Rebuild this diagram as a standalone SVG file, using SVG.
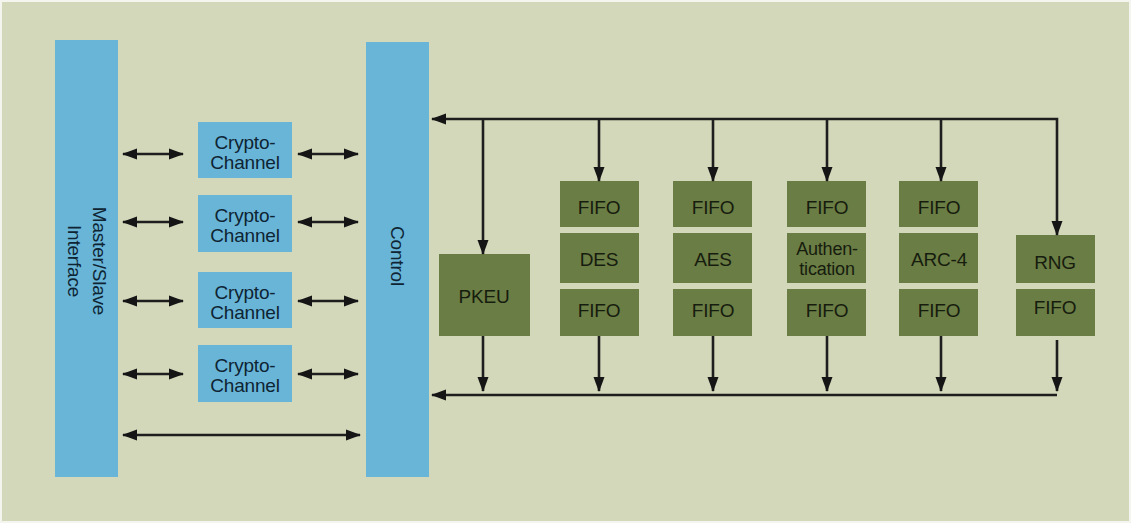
<svg xmlns="http://www.w3.org/2000/svg" width="1131" height="523" viewBox="0 0 1131 523">
<defs>
<style>
.bg{fill:#d3d8ba}
.blue{fill:#69b5d7}
.green{fill:#6a7d44}
.t{font-family:"Liberation Sans",Arial,sans-serif;font-size:19px;fill:#161c0e;text-anchor:middle;dominant-baseline:central;letter-spacing:-0.2px}
.tb{fill:#0e2433}
.ln{stroke:#1e1e1e;stroke-width:2.6;fill:none}
</style>
<marker id="ah" markerUnits="userSpaceOnUse" markerWidth="15" markerHeight="12" refX="14" refY="6" orient="auto-start-reverse">
<path d="M0,0.5 L15,6 L0,11.5 Z" fill="#151515"/>
</marker>
</defs>
<rect x="0" y="0" width="1131" height="523" fill="#f4f5ee"/>
<rect class="bg" x="2" y="2" width="1127" height="519"/>

<g id="master-slave">
<rect class="blue" x="55" y="40" width="63" height="437"/>
<text class="t tb" transform="translate(99,261) rotate(90)" x="0" y="0">Master/Slave</text>
<text class="t tb" transform="translate(74,261) rotate(90)" x="0" y="0">Interface</text>
</g>

<g id="control">
<rect class="blue" x="366" y="42" width="63" height="435"/>
<text class="t tb" transform="translate(397,256) rotate(90)" x="0" y="0">Control</text>
</g>

<g id="cc1"><rect class="blue" x="198" y="122" width="94" height="56"/><text class="t tb" x="245" y="142">Crypto-</text><text class="t tb" x="245" y="162">Channel</text></g>
<g id="cc2"><rect class="blue" x="198" y="195" width="94" height="57"/><text class="t tb" x="245" y="215">Crypto-</text><text class="t tb" x="245" y="235">Channel</text></g>
<g id="cc3"><rect class="blue" x="198" y="272" width="94" height="56"/><text class="t tb" x="245" y="292">Crypto-</text><text class="t tb" x="245" y="312">Channel</text></g>
<g id="cc4"><rect class="blue" x="198" y="345" width="94" height="57"/><text class="t tb" x="245" y="365">Crypto-</text><text class="t tb" x="245" y="385">Channel</text></g>

<g id="pkeu"><rect class="green" x="439" y="254" width="91" height="82"/><text class="t" x="484" y="296">PKEU</text></g>

<g id="des-col">
<rect class="green" x="560" y="181" width="79" height="46"/><text class="t" x="599" y="207">FIFO</text>
<rect class="green" x="560" y="233" width="79" height="50"/><text class="t" x="599" y="259">DES</text>
<rect class="green" x="560" y="289" width="79" height="47"/><text class="t" x="599" y="310">FIFO</text>
</g>
<g id="aes-col">
<rect class="green" x="673" y="181" width="79" height="46"/><text class="t" x="713" y="207">FIFO</text>
<rect class="green" x="673" y="233" width="79" height="50"/><text class="t" x="713" y="259">AES</text>
<rect class="green" x="673" y="289" width="79" height="47"/><text class="t" x="713" y="310">FIFO</text>
</g>
<g id="auth-col">
<rect class="green" x="787" y="181" width="79" height="46"/><text class="t" x="827" y="207">FIFO</text>
<rect class="green" x="787" y="233" width="79" height="50"/><text class="t" x="827" y="249" style="font-size:18px">Authen-</text><text class="t" x="827" y="269" style="font-size:18px">tication</text>
<rect class="green" x="787" y="289" width="79" height="47"/><text class="t" x="827" y="310">FIFO</text>
</g>
<g id="arc4-col">
<rect class="green" x="899" y="181" width="79" height="46"/><text class="t" x="939" y="207">FIFO</text>
<rect class="green" x="899" y="233" width="79" height="50"/><text class="t" x="939" y="259">ARC-4</text>
<rect class="green" x="899" y="289" width="79" height="47"/><text class="t" x="939" y="310">FIFO</text>
</g>
<g id="rng-col">
<rect class="green" x="1016" y="235" width="79" height="48"/><text class="t" x="1055" y="262">RNG</text>
<rect class="green" x="1016" y="289" width="79" height="47"/><text class="t" x="1055" y="307">FIFO</text>
</g>

<g id="connectors" class="ln">
<line x1="123" y1="154" x2="183" y2="154" marker-start="url(#ah)" marker-end="url(#ah)"/>
<line x1="123" y1="222" x2="183" y2="222" marker-start="url(#ah)" marker-end="url(#ah)"/>
<line x1="123" y1="301" x2="183" y2="301" marker-start="url(#ah)" marker-end="url(#ah)"/>
<line x1="123" y1="374" x2="183" y2="374" marker-start="url(#ah)" marker-end="url(#ah)"/>
<line x1="298" y1="154" x2="358" y2="154" marker-start="url(#ah)" marker-end="url(#ah)"/>
<line x1="298" y1="222" x2="358" y2="222" marker-start="url(#ah)" marker-end="url(#ah)"/>
<line x1="298" y1="301" x2="358" y2="301" marker-start="url(#ah)" marker-end="url(#ah)"/>
<line x1="298" y1="374" x2="358" y2="374" marker-start="url(#ah)" marker-end="url(#ah)"/>
<line x1="123" y1="435" x2="360" y2="435" marker-start="url(#ah)" marker-end="url(#ah)"/>

<polyline points="1057,235 1057,119 432,119" marker-start="url(#ah)" marker-end="url(#ah)"/>
<line x1="483" y1="119" x2="483" y2="254" marker-end="url(#ah)"/>
<line x1="599" y1="119" x2="599" y2="181" marker-end="url(#ah)"/>
<line x1="713" y1="119" x2="713" y2="181" marker-end="url(#ah)"/>
<line x1="827" y1="119" x2="827" y2="181" marker-end="url(#ah)"/>
<line x1="941" y1="119" x2="941" y2="181" marker-end="url(#ah)"/>

<polyline points="1057,395 432,395" marker-end="url(#ah)"/>
<line x1="483" y1="336" x2="483" y2="391" marker-end="url(#ah)"/>
<line x1="599" y1="336" x2="599" y2="391" marker-end="url(#ah)"/>
<line x1="713" y1="336" x2="713" y2="391" marker-end="url(#ah)"/>
<line x1="827" y1="336" x2="827" y2="391" marker-end="url(#ah)"/>
<line x1="941" y1="336" x2="941" y2="391" marker-end="url(#ah)"/>
<line x1="1057" y1="340" x2="1057" y2="391" marker-end="url(#ah)"/>
</g>
</svg>
